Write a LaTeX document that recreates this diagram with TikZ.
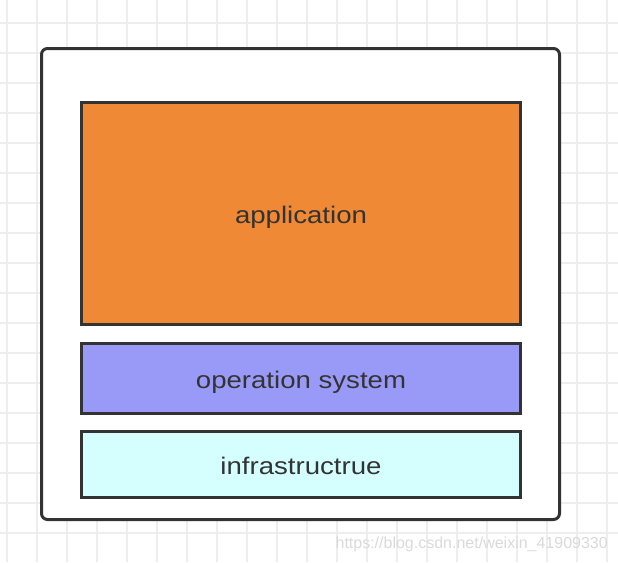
\documentclass[tikz,border=0pt]{standalone}
\usepackage{fontspec}
\usepackage{tikz}
\newfontfamily\layerfont[FakeStretch=1.15]{Liberation Sans}
\newfontfamily\markfont{Liberation Sans}
\definecolor{gridgray}{RGB}{238,238,240}
\definecolor{boxblack}{RGB}{51,51,51}
\definecolor{appfill}{RGB}{239,137,53}
\definecolor{osfill}{RGB}{153,153,247}
\definecolor{infrafill}{RGB}{213,255,255}
\definecolor{markgray}{RGB}{218,218,218}

\begin{document}
\begin{tikzpicture}[x=1pt,y=-1pt,
    layer/.style={draw=boxblack,line width=3pt,rectangle,minimum width=439pt,
        text=boxblack,text height=19pt,text depth=0pt,
        font=\layerfont\fontsize{24}{28}\selectfont},
    frame/.style={draw=boxblack,line width=3pt,rounded corners=6pt,fill=white,
        minimum width=518pt,minimum height=471pt}]
    \useasboundingbox (0,0) rectangle (618,562);

    % Draw the grid
    \fill[white] (0,0) rectangle (618,562);
    \foreach \gx in {7,37,...,607}
        \draw[gridgray,line width=1.5pt] (\gx,0) -- (\gx,562);
    \foreach \gy in {23,53,...,553}
        \draw[gridgray,line width=1.5pt] (0,\gy) -- (618,\gy);

    % Draw the outer box
    \node[frame] (machine) at (300.5,284) {};

    % Draw the layers
    \node[layer,fill=appfill,minimum height=222pt] (app) at (301,213.5) {application};
    \node[layer,fill=osfill,minimum height=70pt] (os) at (301,378.5) {operation system};
    \node[layer,fill=infrafill,minimum height=66pt] (infra) at (301,464.5) {infrastructrue};

    % Watermark
    \node[anchor=east,inner sep=0pt,text=markgray,font=\markfont\fontsize{16}{18}\selectfont]
        (mark) at (608,544) {https://blog.csdn.net/weixin\_41909330};
\end{tikzpicture}
\end{document}
